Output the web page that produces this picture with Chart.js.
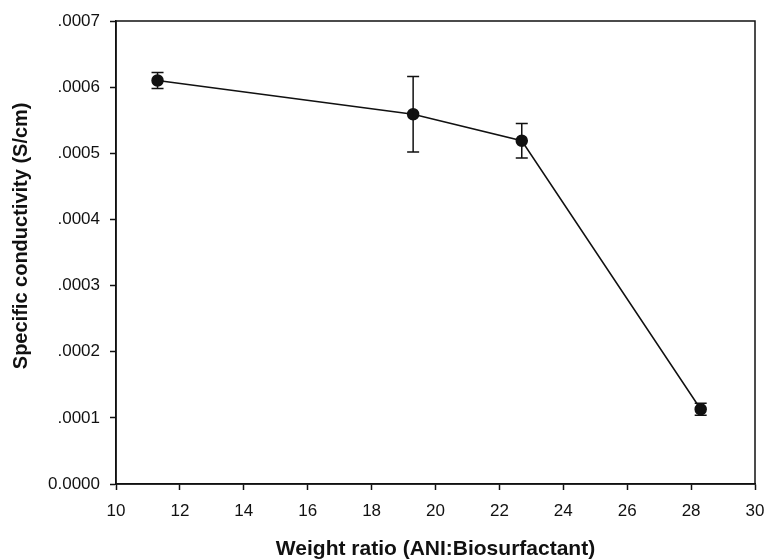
<!DOCTYPE html>
<html>
<head>
<meta charset="utf-8">
<script src="https://cdn.jsdelivr.net/npm/chart.js@4"></script>
<style>
  html, body { margin: 0; padding: 0; background: #fff; }
  #wrap { width: 768px; height: 560px; }
</style>
</head>
<body>
<div id="wrap"><canvas id="c" width="768" height="560"></canvas></div>
<script>
const ratios = [11.3, 19.3, 22.7, 28.3];
const conductivity = [0.000610, 0.000559, 0.000519, 0.000113];
const errors = [0.000012, 0.000057, 0.000026, 0.000009];
const xTicks = [10, 12, 14, 16, 18, 20, 22, 24, 26, 28, 30];
const yTicks = [0, 0.0001, 0.0002, 0.0003, 0.0004, 0.0005, 0.0006, 0.0007];

const errorBars = {
  id: 'errorBars',
  afterDatasetsDraw(chart) {
    const {ctx, scales: {x, y}} = chart;
    ctx.save();
    ctx.strokeStyle = '#111';
    ctx.lineWidth = 1.5;
    ratios.forEach((r, i) => {
      const px = x.getPixelForValue(r);
      const top = y.getPixelForValue(conductivity[i] + errors[i]);
      const bot = y.getPixelForValue(conductivity[i] - errors[i]);
      ctx.beginPath();
      ctx.moveTo(px, top); ctx.lineTo(px, bot);
      ctx.moveTo(px - 6, top); ctx.lineTo(px + 6, top);
      ctx.moveTo(px - 6, bot); ctx.lineTo(px + 6, bot);
      ctx.stroke();
    });
    ctx.restore();
  }
};

const frame = {
  id: 'frame',
  afterDraw(chart) {
    const {ctx, chartArea: a} = chart;
    ctx.save();
    ctx.strokeStyle = '#111';
    ctx.lineWidth = 1.5;
    ctx.strokeRect(a.left, a.top, a.right - a.left, a.bottom - a.top);
    ctx.restore();
  }
};

new Chart(document.getElementById('c'), {
  type: 'scatter',
  data: {
    datasets: [{
      data: ratios.map((r, i) => ({x: r, y: conductivity[i]})),
      showLine: true,
      borderColor: '#111',
      borderWidth: 1.5,
      backgroundColor: '#111',
      pointRadius: 5.5,
      pointHoverRadius: 5.5,
      tension: 0
    }]
  },
  options: {
    responsive: false,
    animation: false,
    layout: { padding: { left: 0, right: 13, top: 21, bottom: 0 } },
    plugins: { legend: { display: false }, tooltip: { enabled: false } },
    scales: {
      x: {
        type: 'linear',
        min: 10, max: 30,
        afterBuildTicks(s) { s.ticks = xTicks.map(v => ({value: v})); },
        afterFit(s) { s.height = 76; s.paddingRight = 0; s.paddingLeft = 0; },
        grid: { drawOnChartArea: false, tickLength: 6, tickColor: '#111', tickWidth: 1.5 },
        border: { color: '#111', width: 1.5 },
        ticks: { color: '#111', font: { family: 'Liberation Sans', size: 17 }, padding: 11, maxRotation: 0 },
        title: { display: true, text: 'Weight ratio (ANI:Biosurfactant)', color: '#111',
                 font: { family: 'Liberation Sans', size: 21, weight: 'bold', lineHeight: 1 }, padding: { top: 0, bottom: 0.5 } }
      },
      y: {
        type: 'linear',
        min: 0, max: 0.0007,
        afterBuildTicks(s) { s.ticks = yTicks.map(v => ({value: v})); },
        afterFit(s) { s.width = 116; s.paddingTop = 0; s.paddingBottom = 0; },
        grid: { drawOnChartArea: false, tickLength: 6, tickColor: '#111', tickWidth: 1.5 },
        border: { color: '#111', width: 1.5 },
        ticks: {
          color: '#111', font: { family: 'Liberation Sans', size: 17 }, padding: 10,
          callback: v => v === 0 ? '0.0000' : v.toFixed(4).replace(/^0/, '')
        },
        title: { display: true, text: '      Specific conductivity (S/cm)', color: '#111',
                 font: { family: 'Liberation Sans', size: 20, weight: 'bold', lineHeight: 1 }, padding: { top: 11, bottom: 0 } }
      }
    }
  },
  plugins: [errorBars, frame]
});
</script>
</body>
</html>
